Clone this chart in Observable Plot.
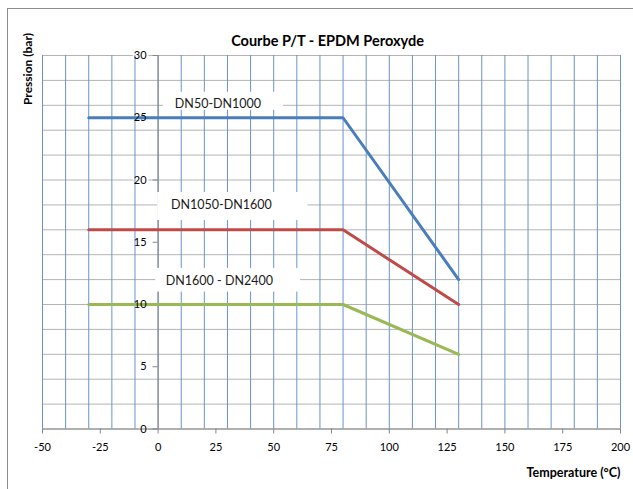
<!DOCTYPE html>
<html>
<head>
<meta charset="utf-8">
<script src="https://cdn.jsdelivr.net/npm/d3@7"></script>
<script src="https://cdn.jsdelivr.net/npm/@observablehq/plot@0.6"></script>
<style>
  html, body { margin: 0; padding: 0; background: #fff; overflow: hidden; }
  #wrap { position: relative; width: 633px; height: 489px; overflow: hidden; background: #fff; }
  #border { position: absolute; left: 7px; top: 8px; width: 700px; height: 600px; border: 1px solid #8c8c8c; pointer-events: none; }
  svg text { paint-order: stroke; }
</style>
</head>
<body>
<div id="wrap"><div id="border"></div></div>
<script>
// ---- data ----
const title = "Courbe P/T - EPDM Peroxyde";
const yTitle = "Pression (bar)";
const xTitle = "Temperature (°C)";

const xTicks = [-50, -25, 0, 25, 50, 75, 100, 125, 150, 175, 200];
const yTicks = [0, 5, 10, 15, 20, 25, 30];
const xGrid = [-50, -40, -30, -20, -10, 0, 10, 20, 30, 40, 50, 60, 70, 80, 90, 100, 110, 120, 130, 140, 150, 160, 170, 180, 190, 200];
const yGrid = [0, 2, 4, 6, 8, 10, 12, 14, 16, 18, 20, 22, 24, 26, 28, 30];

const seriesNames = ["DN50-DN1000", "DN1050-DN1600", "DN1600 - DN2400"];
const temps = [-30, 80, 130];
const dn50 = [25, 25, 12];
const dn1050 = [16, 16, 10];
const dn1600 = [10, 10, 6];

// label text-box anchors (data units)
const labelX = [25.9, 27.4, 26.5];
const labelY = [26.1, 18.0, 11.9];
const boxX1 = [2.3, -0.2, -1.0];
const boxX2 = [54.2, 64.8, 61.6];
const boxY1 = [25.6, 16.75, 11.0];
const boxY2 = [27.05, 19.0, 12.9];

const seriesColors = ["#4a7ebb", "#be4b48", "#98b954"];

// ---- tables built from the arrays ----
const seriesValues = [dn50, dn1050, dn1600];
const rows = seriesNames.flatMap((name, s) => temps.map((t, i) => ({name, t, p: seriesValues[s][i]})));
const labels = seriesNames.map((name, i) => ({name, x: labelX[i], y: labelY[i], x1: boxX1[i], x2: boxX2[i], y1: boxY1[i], y2: boxY2[i]}));

const font = "Lato, 'Open Sans', sans-serif";
const yLabelOpts = {x: 0, y: d => d, text: d => String(d), textAnchor: "end", dx: -11.5, fontSize: 11};

const chart = Plot.plot({
  width: 633,
  height: 489,
  marginLeft: 42,
  marginRight: 13,
  marginTop: 55,
  marginBottom: 60.5,
  style: {fontFamily: font, background: "transparent", color: "black"},
  x: {domain: [-50, 200]},
  y: {domain: [0, 30], axis: null},
  color: {domain: seriesNames, range: seriesColors},
  marks: [
    Plot.ruleY(yGrid, {stroke: "#b4b4b4", strokeWidth: 1}),
    // white backing behind the y tick labels (hides the gray gridlines only)
    Plot.text(yTicks, {...yLabelOpts, fill: "white", stroke: "white", strokeWidth: 4}),
    Plot.ruleX(xGrid, {stroke: "#6a93c9", strokeWidth: 1}),
    Plot.ruleX([0], {stroke: "#868686", strokeWidth: 1}),
    Plot.ruleY([0], {stroke: "#868686", strokeWidth: 1}),
    Plot.ruleY(yTicks, {y: d => d, x1: 0, x2: 0, insetLeft: -5, stroke: "#868686"}),
    Plot.axisX({ticks: xTicks, tickFormat: d => String(d), tickSize: 5, tickPadding: 9, stroke: "#868686", fill: "black", fontSize: 11, label: null}),
    Plot.line(rows, {x: "t", y: "p", z: "name", stroke: "name", strokeWidth: 3, strokeLinejoin: "round"}),
    Plot.text(yTicks, {...yLabelOpts, fill: "black"}),
    Plot.rect(labels, {x1: "x1", x2: "x2", y1: "y1", y2: "y2", fill: "white"}),
    Plot.text(labels, {x: "x", y: "y", text: "name", fontSize: 12.5, fill: "#1a1a1a"}),
    Plot.text([title], {frameAnchor: "top", dy: -20, dx: -4, fontWeight: "bold", fontSize: 14.5, fill: "black"}),
    Plot.text([yTitle], {frameAnchor: "top-left", dx: -14, dy: 13.5, rotate: -90, textAnchor: "middle", lineAnchor: "middle", fontWeight: "bold", fontSize: 12, fill: "black"}),
    Plot.text([xTitle], {frameAnchor: "bottom-right", dy: 43.5, textAnchor: "end", lineAnchor: "middle", fontWeight: "bold", fontSize: 12.5, fill: "black"})
  ]
});

document.getElementById("wrap").prepend(chart);
</script>
</body>
</html>
